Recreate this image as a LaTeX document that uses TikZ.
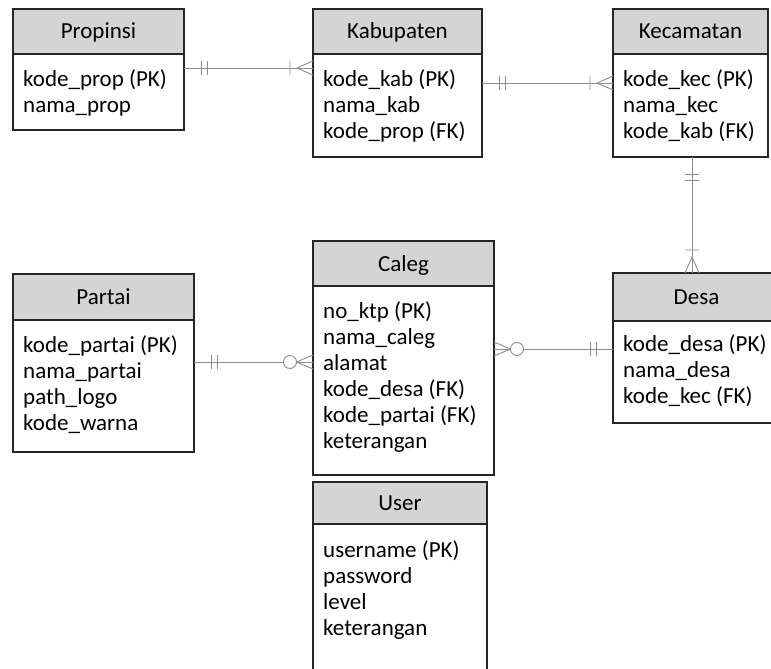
\documentclass[tikz,border=0pt]{standalone}
\usepackage{fontspec}
\setmainfont{Carlito}
\usepackage{tikz}
\usetikzlibrary{positioning, calc}
\definecolor{abumuda}{HTML}{D4D4D4}
\definecolor{abugaris}{HTML}{8C8C8C}
\definecolor{hitambox}{HTML}{262626}

\tikzset{
  rel/.style={draw=abugaris, line width=0.9pt},
  % ujung relasi, dari sisi tabel ke arah garis
  unoyuno/.pic={\draw[rel] (17,-7) -- (17,7) (23,-7) -- (23,7);},
  unomuchos/.pic={\draw[rel] (23,-7) -- (23,7) (16,0) -- (0,-7) (16,0) -- (0,7);},
  ceromuchos/.pic={\draw[rel] (16.5,0) -- (0,-7) (16.5,0) -- (0,7);
                   \draw[rel, fill=white] (23,0) circle (6.5pt);}
}

\begin{document}
\begin{tikzpicture}[
  x=1pt, y=-1pt, node distance=0pt,
  judul/.style={
    rectangle, draw=hitambox, fill=abumuda, line width=1.6pt,
    anchor=north west, minimum height=45pt, outer sep=0pt, inner sep=0pt,
    font=\fontsize{23}{26}\selectfont, text height=15pt, text depth=0pt
  },
  isi/.style={rectangle, draw=hitambox, line width=1.6pt, outer sep=0pt, inner sep=0pt},
  kolom/.style={anchor=north west, align=left, inner sep=0pt,
    font=\fontsize{23}{26}\selectfont}
]
  \useasboundingbox (0,0) rectangle (771,669);
  \clip (0,0) rectangle (771,669);

  % tabel
  \node[judul, minimum width=171pt] (prop) at (13,9) {Propinsi};
  \node[isi, minimum width=171pt, minimum height=76pt, below=of prop] (propb) {};
  \node[kolom] (propt) at ($(propb.north west)+(10,14)$)
    {\strut kode\_prop (PK)\\nama\_prop};

  \node[judul, minimum width=169pt] (kab) at (313,9) {Kabupaten};
  \node[isi, minimum width=169pt, minimum height=103pt, below=of kab] (kabb) {};
  \node[kolom] (kabt) at ($(kabb.north west)+(10,14)$)
    {\strut kode\_kab (PK)\\nama\_kab\\kode\_prop (FK)};

  \node[judul, minimum width=155pt] (kec) at (613,9) {Kecamatan};
  \node[isi, minimum width=155pt, minimum height=103pt, below=of kec] (kecb) {};
  \node[kolom] (kect) at ($(kecb.north west)+(10,14)$)
    {\strut kode\_kec (PK)\\nama\_kec\\kode\_kab (FK)};

  \node[judul, minimum width=181pt, minimum height=46pt] (part) at (13,274) {Partai};
  \node[isi, minimum width=181pt, minimum height=132pt, below=of part] (partb) {};
  \node[kolom] (partt) at ($(partb.north west)+(10,14.5)$)
    {\strut kode\_partai (PK)\\nama\_partai\\path\_logo\\kode\_warna};

  \node[judul, minimum width=181pt] (cal) at (313,241) {Caleg};
  \node[isi, minimum width=181pt, minimum height=189pt, below=of cal] (calb) {};
  \node[kolom] (calt) at ($(calb.north west)+(10,13.8)$)
    {\strut no\_ktp (PK)\\nama\_caleg\\alamat\\kode\_desa (FK)\\kode\_partai (FK)\\keterangan};

  \node[judul, minimum width=167pt, minimum height=48pt] (desa) at (613,273) {Desa};
  \node[isi, minimum width=167pt, minimum height=102pt, below=of desa] (desab) {};
  \node[kolom] (desat) at ($(desab.north west)+(10,11.8)$)
    {\strut kode\_desa (PK)\\nama\_desa\\kode\_kec (FK)};

  \node[judul, minimum width=174pt, minimum height=42pt] (user) at (313,482) {User};
  \node[isi, minimum width=174pt, minimum height=200pt, below=of user] (userb) {};
  \node[kolom] (usert) at ($(userb.north west)+(10,14.8)$)
    {\strut username (PK)\\password\\level\\keterangan};

  % relasi
  \draw[rel] (propb.east |- 0,68) coordinate (r1a) -- (kabb.west |- 0,68) coordinate (r1b);
  \pic at (r1a) {unoyuno};
  \pic[rotate=180] at (r1b) {unomuchos};

  \draw[rel] (kabb.east |- 0,83) coordinate (r2a) -- (kecb.west |- 0,83) coordinate (r2b);
  \pic at (r2a) {unoyuno};
  \pic[rotate=180] at (r2b) {unomuchos};

  \draw[rel] (kecb.south -| 692,0) coordinate (r3a) -- (desa.north -| 692,0) coordinate (r3b);
  \pic[rotate=-90] at (r3a) {unoyuno};
  \pic[rotate=90] at (r3b) {unomuchos};

  \draw[rel] (partb.east |- 0,362) coordinate (r4a) -- (calb.west |- 0,362) coordinate (r4b);
  \pic at (r4a) {unoyuno};
  \pic[rotate=180] at (r4b) {ceromuchos};

  \draw[rel] (calb.east |- 0,349) coordinate (r5a) -- (desab.west |- 0,349) coordinate (r5b);
  \pic at (r5a) {ceromuchos};
  \pic[rotate=180] at (r5b) {unoyuno};
\end{tikzpicture}
\end{document}
